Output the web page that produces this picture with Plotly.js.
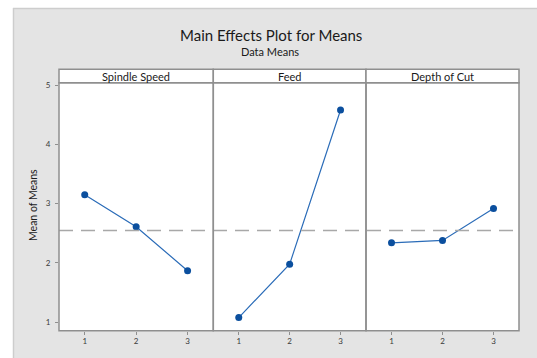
<!DOCTYPE html>
<html>
<head>
<meta charset="utf-8">
<script src="https://cdn.plot.ly/plotly-3.0.1.min.js"></script>
<style>html,body{margin:0;padding:0;background:#fff;}#chart{width:537px;height:358px;}</style>
</head>
<body>
<div id="chart"></div>
<script>
// Data
const levels = [1, 2, 3];
const factors = ["Spindle Speed", "Feed", "Depth of Cut"];
const spindleSpeed = [3.15, 2.61, 1.87];
const feed = [1.08, 1.98, 4.58];
const depthOfCut = [2.34, 2.38, 2.92];
const yTicks = [1, 2, 3, 4, 5];
const seriesList = [spindleSpeed, feed, depthOfCut];

const all = spindleSpeed.concat(feed, depthOfCut);
const grandMean = all.reduce((a, b) => a + b, 0) / all.length;

const W = 537, H = 358;
const px = v => v / W;
const py = v => 1 - v / H;

const panelEdges = [59, 213.3, 366, 519];
const plotTop = 82.7, plotBottom = 330.7, stripTop = 69.3;
const grayLeft = 13, grayTop = 8;
const axisIds = ["x", "x2", "x3"];
const axisKeys = ["xaxis", "xaxis2", "xaxis3"];

const lineColor = "#2b6cb8";
const markerColor = "#0b4f9e";
const frameColor = "#8f8f8f";
const grayBg = "#e4e4e4";

const traces = seriesList.map((s, i) => ({
  x: levels, y: s, xaxis: axisIds[i], yaxis: "y",
  type: "scatter", mode: "lines+markers",
  line: {color: lineColor, width: 1.2},
  marker: {color: markerColor, size: 7, symbol: "circle"},
  showlegend: false, hoverinfo: "skip"
}));

function band(x0, x1, y0, y1) {
  return {type: "rect", xref: "paper", yref: "paper", x0: px(x0), x1: px(x1), y0: py(y1), y1: py(y0),
    fillcolor: grayBg, line: {width: 0}, layer: "below"};
}

const layout = {
  width: W, height: H,
  margin: {l: 0, r: 0, t: 0, b: 0},
  paper_bgcolor: "#ffffff",
  plot_bgcolor: "#ffffff",
  font: {family: "Lato, 'Open Sans', sans-serif", color: "#222"},
  yaxis: {
    domain: [py(plotBottom), py(plotTop)],
    range: [0.858, 5.04],
    tickvals: yTicks, ticktext: yTicks.map(String),
    ticks: "outside", ticklen: 3, tickcolor: frameColor, tickwidth: 1,
    ticklabelstandoff: 3,
    tickfont: {size: 8, color: "#3a3a3a"},
    showgrid: false, zeroline: false, showline: false,
    anchor: "x"
  },
  shapes: [
    // gray chart area around the panels
    band(grayLeft, W + 2, grayTop, stripTop),
    band(grayLeft, panelEdges[0], stripTop - 1, H + 2),
    band(panelEdges[3], W + 2, stripTop - 1, H + 2),
    band(panelEdges[0] - 1, panelEdges[3] + 1, plotBottom, H + 2),
    // gray area border
    {type: "line", xref: "paper", yref: "paper", x0: px(grayLeft), x1: 1.01, y0: py(grayTop + 0.5), y1: py(grayTop + 0.5),
     line: {color: "#cdcdcd", width: 1.5}, layer: "below"},
    {type: "line", xref: "paper", yref: "paper", x0: px(grayLeft + 0.5), x1: px(grayLeft + 0.5), y0: -0.01, y1: py(grayTop),
     line: {color: "#cdcdcd", width: 1.5}, layer: "below"}
  ],
  annotations: [
    {text: "Main Effects Plot for Means", xref: "paper", yref: "paper", x: px(271), y: py(35),
     showarrow: false, font: {size: 15, color: "#1a1a1a"}, xanchor: "center", yanchor: "middle"},
    {text: "Data Means", xref: "paper", yref: "paper", x: px(270), y: py(52),
     showarrow: false, font: {size: 11, color: "#1a1a1a"}, xanchor: "center", yanchor: "middle"},
    {text: "Mean of Means", xref: "paper", yref: "paper", x: px(33), y: py(205),
     showarrow: false, textangle: -90, font: {size: 10.5, color: "#1a1a1a"}, xanchor: "center", yanchor: "middle"}
  ]
};

for (let i = 0; i < 3; i++) {
  layout[axisKeys[i]] = {
    domain: [px(panelEdges[i]), px(panelEdges[i + 1])],
    range: [0.5, 3.5],
    tickvals: levels, ticktext: levels.map(String),
    ticks: "outside", ticklen: 3, tickcolor: frameColor, tickwidth: 1,
    tickfont: {size: 8, color: "#3a3a3a"},
    showgrid: false, zeroline: false, showline: false,
    anchor: "y"
  };
}

// mean reference line
layout.shapes.push({type: "line", xref: "paper", yref: "y", x0: px(panelEdges[0]), x1: px(panelEdges[3]),
  y0: grandMean, y1: grandMean, line: {color: "#a8a8a8", width: 1.5, dash: "14px,8px"}, layer: "above"});

for (let i = 0; i < 3; i++) {
  // panel frame
  layout.shapes.push({type: "rect", xref: axisIds[i] + " domain", yref: "paper",
    x0: 0, x1: 1, y0: py(plotBottom), y1: py(plotTop),
    line: {color: frameColor, width: 1.5}, fillcolor: "rgba(0,0,0,0)", layer: "above"});
  // strip header
  layout.shapes.push({type: "rect", xref: axisIds[i] + " domain", yref: "paper",
    x0: 0, x1: 1, y0: py(plotTop), y1: py(stripTop),
    line: {color: frameColor, width: 1.5}, fillcolor: "#ffffff", layer: "above"});
  layout.annotations.push({text: factors[i], xref: axisIds[i] + " domain", yref: "paper",
    x: 0.5, y: py((plotTop + stripTop) / 2), showarrow: false,
    font: {size: 11, color: "#1a1a1a"}, xanchor: "center", yanchor: "middle"});
}

Plotly.newPlot("chart", traces, layout, {staticPlot: true, displayModeBar: false});
</script>
</body>
</html>
